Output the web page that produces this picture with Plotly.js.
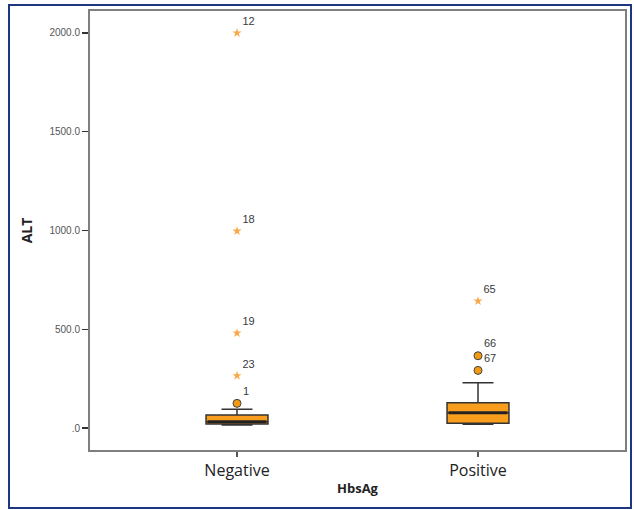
<!DOCTYPE html>
<html>
<head>
<meta charset="utf-8">
<script src="https://cdn.plot.ly/plotly-3.0.1.min.js"></script>
<style>
  html, body { margin: 0; padding: 0; background: #fff; }
  #wrap { position: relative; width: 634px; height: 510px; }
  #chart { position: absolute; left: 0; top: 0; width: 634px; height: 510px; }
  #frame { position: absolute; left: 8px; top: 4px; width: 620px; height: 501px;
           border: 2px solid #1d3680; pointer-events: none; }
</style>
</head>
<body>
<div id="wrap">
  <div id="chart"></div>
  <div id="frame"></div>
</div>
<script>
// Categories and box statistics (ALT by HbsAg)
const categories = ["Negative", "Positive"];
const q1Values = [20, 24];
const medianValues = [32, 77];
const q3Values = [66, 128];
const lowerFenceValues = [15, 19];
const upperFenceValues = [95, 229];

// Extreme outliers (stars)
const extremeGroup = ["Negative", "Negative", "Negative", "Negative", "Positive"];
const extremeValues = [2000, 997, 481, 265, 643];
const extremeLabels = ["12", "18", "19", "23", "65"];

// Mild outliers (circles)
const mildGroup = ["Negative", "Positive", "Positive"];
const mildValues = [125, 366, 292];
const mildLabels = ["1", "66", "67"];

// Y tick labels
const yTickValues = [0, 500, 1000, 1500, 2000];
const yTickLabels = [".0", "500.0", "1000.0", "1500.0", "2000.0"];

const boxColor = "#F99D1C";
const lineColor = "#333333";

const traces = [
  {
    type: "box",
    x: categories,
    q1: q1Values,
    median: medianValues,
    q3: q3Values,
    lowerfence: lowerFenceValues,
    upperfence: upperFenceValues,
    boxpoints: false,
    width: 0.257,
    whiskerwidth: 0.5,
    fillcolor: boxColor,
    line: { color: lineColor, width: 1.5 },
    hoverinfo: "skip",
    showlegend: false
  },
  {
    // thicker median line
    type: "scatter",
    mode: "markers",
    x: categories,
    y: medianValues,
    marker: { symbol: "line-ew-open", size: 42, color: "#222", line: { color: "#222", width: 3 } },
    hoverinfo: "skip",
    showlegend: false
  },
  {
    type: "scatter",
    mode: "markers+text",
    x: extremeGroup,
    y: extremeValues,
    text: extremeLabels,
    textposition: "top right",
    textfont: { family: "Liberation Sans, Arial, sans-serif", size: 11, color: "#3a3a3a" },
    marker: { symbol: "star", size: 7, color: "#F9A94B", line: { width: 0 } },
    cliponaxis: false,
    showlegend: false
  },
  {
    type: "scatter",
    mode: "markers+text",
    x: mildGroup,
    y: mildValues,
    text: mildLabels,
    textposition: "top right",
    textfont: { family: "Liberation Sans, Arial, sans-serif", size: 11, color: "#3a3a3a" },
    marker: { symbol: "circle", size: 8, color: "#F39A12", line: { color: "#444", width: 1 } },
    cliponaxis: false,
    showlegend: false
  }
];

const layout = {
  width: 634,
  height: 510,
  margin: { l: 90, r: 9, t: 11, b: 60 },
  paper_bgcolor: "#ffffff",
  plot_bgcolor: "#ffffff",
  showlegend: false,
  xaxis: {
    type: "category",
    range: [-0.61, 1.61],
    showline: true,
    mirror: true,
    linecolor: "#7f7f7f",
    linewidth: 2,
    showgrid: false,
    zeroline: false,
    ticks: "outside",
    ticklen: 5,
    tickwidth: 1.5,
    tickcolor: "#555",
    tickfont: { family: "Open Sans, sans-serif", size: 16, color: "#222" },
    title: { text: "HbsAg", font: { family: "Open Sans, sans-serif", size: 13, color: "#222", weight: "bold" }, standoff: 4 }
  },
  yaxis: {
    range: [-111, 2111],
    showline: true,
    mirror: true,
    linecolor: "#7f7f7f",
    linewidth: 2,
    showgrid: false,
    zeroline: false,
    ticks: "outside",
    ticklen: 6,
    tickwidth: 1.5,
    tickcolor: "#333",
    tickvals: yTickValues,
    ticktext: yTickLabels,
    tickfont: { family: "Liberation Sans, Arial, sans-serif", size: 10, color: "#555" },
    title: { text: "ALT", font: { family: "Open Sans, sans-serif", size: 14, color: "#222", weight: "bold" }, standoff: 14 }
  }
};

Plotly.newPlot("chart", traces, layout, { displayModeBar: false, staticPlot: true });
</script>
</body>
</html>
